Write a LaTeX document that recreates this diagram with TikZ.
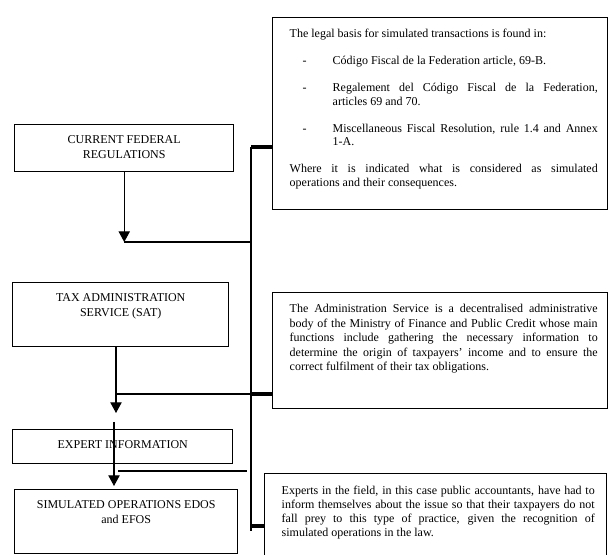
\documentclass[tikz,border=0pt]{standalone}
\usepackage{fontspec}
\setmainfont{Liberation Serif}
\usetikzlibrary{arrows.meta}
\newdimen\pu \pu=0.75pt
\newcommand{\lbox}[3]{\parbox[t][#2\pu][t]{#1\pu}{\fontsize{9pt}{11.25pt}\selectfont\centering\rule{0pt}{19\pu}#3}}
\newcommand{\rbox}[7]{\parbox[t][#2\pu][t]{#1\pu}{\hspace*{#3\pu}\parbox[t]{#4\pu}{\fontsize{9pt}{#7\pu}\selectfont\tolerance=9999\spaceskip=0.25em plus 0.6em minus 0.08em\rule{0pt}{#5\pu}#6}}}
\tikzset{
  box/.style={draw=black, line width=1.1pt, inner sep=0pt, anchor=north west},
  conn/.style={draw=black, line width=0.8pt},
  bar/.style={draw=black, line width=3pt},
  arr/.style={-{Triangle[width=8.5pt,length=8pt]}},
}
\begin{document}
\begin{tikzpicture}[x=0.75pt,y=-0.75pt]
\useasboundingbox (0,0) rectangle (608,555);
% left column
\node[box] (cfr) at (14,124) {\lbox{219}{47}{CURRENT FEDERAL\\REGULATIONS}};
\node[box] (sat) at (12,282) {\lbox{216}{64}{TAX ADMINISTRATION\\SERVICE (SAT)}};
\node[box] (exp) at (12,429) {\lbox{220}{34}{EXPERT INFORMATION}};
\node[box] (sim) at (14,489) {\lbox{223}{64}{SIMULATED OPERATIONS EDOS\\and EFOS}};
% right column
\node[box] (leg) at (272,17) {\rbox{335}{192}{17}{308}{20}{%
The legal basis for simulated transactions is found in:\par\vspace{13.5\pu}
\hangindent=43\pu\hangafter=1\makebox[43\pu][l]{\hspace{13\pu}-}Código Fiscal de la Federation article, 69-B.\par\vspace{13.5\pu}
\hangindent=43\pu\hangafter=1\makebox[43\pu][l]{\hspace{13\pu}-}Regalement del Código Fiscal de la Federation, \linebreak articles 69 and 70.\par\vspace{13.5\pu}
\hangindent=43\pu\hangafter=1\makebox[43\pu][l]{\hspace{13\pu}-}Miscellaneous Fiscal Resolution, rule 1.4 and Annex \linebreak 1-A.\par\vspace{13.5\pu}
Where it is indicated what is considered as simulated \linebreak operations and their consequences.}{13.5}};
\node[box] (adm) at (272,292) {\rbox{335}{116}{17}{308}{20}{%
The Administration Service is a decentralised administrative \linebreak body of the Ministry of Finance and Public Credit whose main \linebreak functions include gathering the necessary information to \linebreak determine the origin of taxpayers' income and to ensure the \linebreak correct fulfilment of their tax obligations.}{14.5}};
\node[box] (pro) at (264,473) {\rbox{342}{95}{17}{313}{21}{%
Experts in the field, in this case public accountants, have had to \linebreak inform themselves about the issue so that their taxpayers do not \linebreak fall prey to this type of practice, given the recognition of \linebreak simulated operations in the law.}{14}};
% trunk and bars
\coordinate (top) at (251,147);
\coordinate (bot) at (251,531);
\coordinate (j1) at (251,242);
\coordinate (j2) at (251,394);
\coordinate (j3) at (251,526);
\draw[conn] (top) -- (bot);
\draw[bar] (top) -- (top -| leg.west);
\draw[bar] (j2) -- (j2 -| adm.west);
\draw[bar] (j3) -- (j3 -| pro.west);
% CFR arrow
\draw[conn,arr] (cfr.south) -- (cfr.south |- j1);
\draw[conn] (cfr.south |- j1) -- (j1);
% SAT arrow
\coordinate (a2) at (116,413);
\draw[conn,arr] (sat.south -| a2) -- (a2);
\draw[conn] (a2 |- j2) -- (j2);
% arrow through expert information
\coordinate (a3s) at (114,422);
\coordinate (a3e) at (114,486);
\draw[conn,arr] (a3s) -- (a3e);
% free line
\coordinate (f1) at (118,471);
\coordinate (f2) at (247,471);
\draw[conn] (f1) -- (f2);
\end{tikzpicture}
\end{document}
